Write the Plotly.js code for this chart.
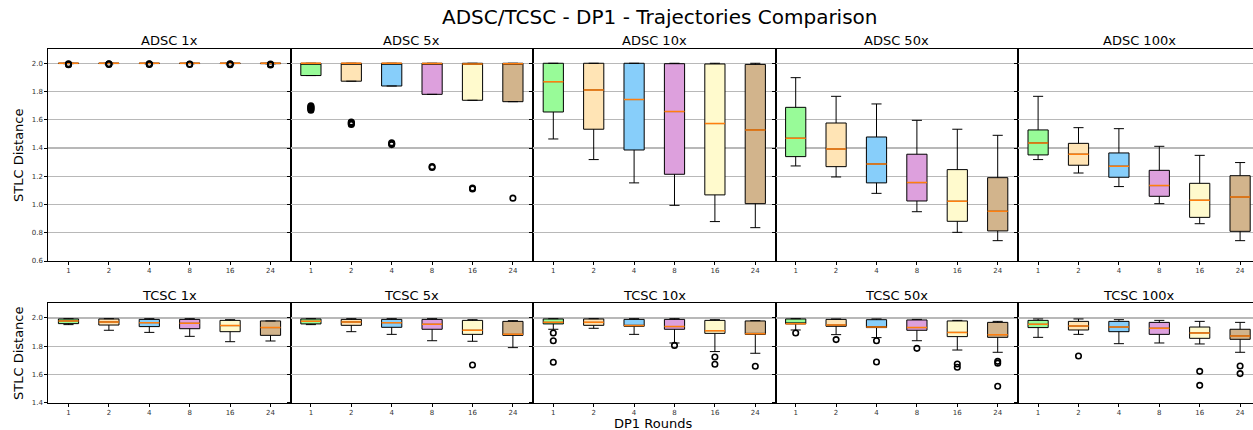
<!DOCTYPE html>
<html><head><meta charset="utf-8">
<script src="https://cdn.plot.ly/plotly-3.0.1.min.js"></script>
<style>html,body{margin:0;padding:0;overflow:hidden;background:#fff}</style>
</head><body><div id="chart"></div>
<script>
const rounds = ['1','2','4','8','16','24'];
const boxColors = ['#98FB98','#FFE4B5','#87CEFA','#DDA0DD','#FFFACD','#D2B48C'];
const adscPanels = ['ADSC 1x','ADSC 5x','ADSC 10x','ADSC 50x','ADSC 100x'];
const tcscPanels = ['TCSC 1x','TCSC 5x','TCSC 10x','TCSC 50x','TCSC 100x'];
const topTicks = [0.6,0.8,1.0,1.2,1.4,1.6,1.8,2.0];
const bottomTicks = [1.4,1.6,1.8,2.0];

// ADSC (top row) box statistics, one row per panel, one value per round
const adscUpper = [
  [2.0,2.0,2.0,2.0,2.0,2.0],
  [2.0,2.0,2.0,2.0,2.0,2.0],
  [2.0,2.0,2.0,2.0,2.0,2.0],
  [1.898,1.766,1.712,1.596,1.533,1.49],
  [1.766,1.544,1.537,1.412,1.348,1.297]];
const adscQ3 = [
  [2.0,2.0,2.0,2.0,2.0,2.0],
  [2.0,2.0,2.0,2.0,2.0,2.0],
  [2.0,2.0,2.0,1.997,1.995,1.992],
  [1.688,1.577,1.478,1.356,1.247,1.19],
  [1.528,1.433,1.365,1.242,1.15,1.204]];
const adscMedian = [
  [2.0,2.0,2.0,2.0,2.0,2.0],
  [2.0,2.0,2.0,1.999,1.994,1.997],
  [1.870,1.811,1.743,1.658,1.573,1.528],
  [1.469,1.393,1.287,1.155,1.023,0.952],
  [1.436,1.356,1.271,1.134,1.03,1.053]];
const adscQ1 = [
  [1.998,1.998,1.998,1.998,1.998,1.997],
  [1.913,1.873,1.839,1.78,1.738,1.728],
  [1.655,1.533,1.386,1.214,1.068,1.006],
  [1.339,1.268,1.153,1.025,0.881,0.813],
  [1.351,1.278,1.193,1.058,0.909,0.81]];
const adscLower = [
  [1.997,1.997,1.997,1.997,1.997,1.996],
  [1.913,1.873,1.839,1.78,1.738,1.728],
  [1.464,1.318,1.153,0.994,0.879,0.836],
  [1.273,1.195,1.079,0.949,0.803,0.744],
  [1.318,1.223,1.127,1.006,0.864,0.744]];
const adscOutliers = [
  [[1.99,1.993,1.996],[1.992,1.995,1.997],[1.991,1.994,1.997],[1.992,1.995],[1.99,1.993,1.996],[1.988,1.991,1.994]],
  [[1.668,1.674,1.68,1.686,1.692,1.698],[1.566,1.572,1.578,1.584],[1.424,1.43,1.436],[1.262,1.268],[1.11,1.116],[1.045]],
  [[],[],[],[],[],[]],
  [[],[],[],[],[],[]],
  [[],[],[],[],[],[]]];

// TCSC (bottom row)
const tcscUpper = [
  [1.995,1.995,1.995,1.995,1.988,1.979],
  [1.995,1.995,1.995,1.995,1.988,1.981],
  [1.995,1.995,1.995,1.995,1.988,1.981],
  [1.995,1.993,1.993,1.99,1.983,1.976],
  [1.993,1.993,1.988,1.983,1.976,1.969]];
const tcscQ3 = [
  [1.993,1.993,1.99,1.99,1.983,1.979],
  [1.993,1.99,1.99,1.99,1.983,1.976],
  [1.993,1.993,1.99,1.99,1.983,1.979],
  [1.993,1.99,1.988,1.986,1.979,1.969],
  [1.983,1.976,1.976,1.969,1.936,1.92]];
const tcscMedian = [
  [1.979,1.972,1.967,1.962,1.946,1.932],
  [1.976,1.972,1.967,1.955,1.913,1.884],
  [1.969,1.969,1.946,1.939,1.91,1.889],
  [1.96,1.95,1.936,1.932,1.898,1.882],
  [1.955,1.943,1.936,1.927,1.894,1.873]];
const tcscQ1 = [
  [1.96,1.95,1.939,1.924,1.903,1.877],
  [1.958,1.948,1.934,1.92,1.884,1.877],
  [1.958,1.948,1.941,1.92,1.891,1.884],
  [1.958,1.941,1.932,1.913,1.868,1.863],
  [1.932,1.915,1.903,1.884,1.856,1.849]];
const tcscLower = [
  [1.953,1.913,1.898,1.87,1.832,1.837],
  [1.953,1.903,1.884,1.839,1.835,1.79],
  [1.92,1.927,1.884,1.823,1.762,1.75],
  [1.915,1.882,1.861,1.839,1.773,1.757],
  [1.863,1.884,1.818,1.823,1.816,1.757]];
const tcscOutliers = [
  [[],[],[],[],[],[]],
  [[],[],[],[],[1.667],[]],
  [[1.894,1.839,1.686],[],[],[1.806],[1.724,1.672],[1.658]],
  [[1.894],[1.847],[1.839,1.688],[1.785],[1.674,1.651],[1.693,1.68,1.516]],
  [[],[1.731],[],[],[1.622,1.523],[1.66,1.606]]];

const W = 1262, H = 430;
const colLeft = 48.3, colWidth = 242.4;
const rowsPx = [{top:49, bottom:261, range:[0.6,2.101], ticks:topTicks},
                {top:303.3, bottom:402.7, range:[1.4,2.104], ticks:bottomTicks}];
const BOXW = 0.5;

const panels = [];
for (let c = 0; c < 5; c++) panels.push({row:0, col:c, title:adscPanels[c], up:adscUpper[c], q3:adscQ3[c], med:adscMedian[c], q1:adscQ1[c], lo:adscLower[c], out:adscOutliers[c]});
for (let c = 0; c < 5; c++) panels.push({row:1, col:c, title:tcscPanels[c], up:tcscUpper[c], q3:tcscQ3[c], med:tcscMedian[c], q1:tcscQ1[c], lo:tcscLower[c], out:tcscOutliers[c]});

const data = [];
const layout = {
  width: W, height: H, margin:{l:0,r:0,t:0,b:0},
  paper_bgcolor:'#fff', plot_bgcolor:'#fff', showlegend:false,
  font:{family:'DejaVu Sans, sans-serif', color:'#000'},
  boxmode:'overlay', annotations:[]
};

panels.forEach((p, idx) => {
  const k = idx + 1;
  const xs = 'x' + (k === 1 ? '' : k), ys = 'y' + (k === 1 ? '' : k);
  const rp = rowsPx[p.row];
  layout['xaxis' + (k === 1 ? '' : k)] = {
    domain:[(colLeft + p.col*colWidth)/W, (colLeft + (p.col+1)*colWidth)/W],
    range:[-0.5, 5.5], tickmode:'array', tickvals:rounds.map((_, i) => i), ticktext:rounds,
    ticks:'outside', ticklen:3, tickwidth:1, tickcolor:'#000', tickfont:{size:7, color:'#333'},
    showline:true, mirror:true, linecolor:'#000', linewidth:1,
    showgrid:false, zeroline:false, anchor:ys, fixedrange:true
  };
  layout['yaxis' + (k === 1 ? '' : k)] = {
    domain:[1 - rp.bottom/H, 1 - rp.top/H], range:rp.range,
    tickmode:'array', tickvals:rp.ticks, ticktext:rp.ticks.map(v => v.toFixed(1)),
    showticklabels:p.col === 0, ticks:'outside', ticklen:3, tickwidth:1, tickcolor:'#000',
    tickfont:{size:7, color:'#333'},
    showgrid:true, gridcolor:'#b8b8b8', gridwidth:1.2,
    showline:true, mirror:true, linecolor:'#000', linewidth:1,
    zeroline:false, anchor:xs, fixedrange:true
  };
  rounds.forEach((r, i) => {
    data.push({
      type:'box', x:[i], q1:[p.q1[i]], median:[p.med[i]], q3:[p.q3[i]],
      lowerfence:[p.lo[i]], upperfence:[p.up[i]],
      fillcolor:boxColors[i], line:{color:'#000', width:1}, width:BOXW, whiskerwidth:0.5,
      boxpoints:false, xaxis:xs, yaxis:ys, hoverinfo:'skip'
    });
  });
  const mx = [], my = [];
  rounds.forEach((r, i) => { mx.push(i - BOXW/2, i + BOXW/2, null); my.push(p.med[i], p.med[i], null); });
  data.push({type:'scatter', mode:'lines', x:mx, y:my, line:{color:'#ff7f0e', width:1.5},
             xaxis:xs, yaxis:ys, hoverinfo:'skip'});
  const ox = [], oy = [];
  p.out.forEach((arr, i) => arr.forEach(v => { ox.push(i); oy.push(v); }));
  if (ox.length) data.push({type:'scatter', mode:'markers', x:ox, y:oy,
    marker:{symbol:'circle-open', size:5.5, color:'#000', line:{width:1.6, color:'#000'}},
    xaxis:xs, yaxis:ys, hoverinfo:'skip', cliponaxis:false});
  layout.annotations.push({
    text:p.title, xref:'paper', yref:'paper',
    x:(colLeft + (p.col+0.5)*colWidth)/W, y:1 - (p.row === 0 ? 40.5 : 295)/H,
    xanchor:'center', yanchor:'middle', showarrow:false, font:{size:13, color:'#000'}
  });
});

layout.annotations.push({text:'ADSC/TCSC - DP1 - Trajectories Comparison', xref:'paper', yref:'paper',
  x:660/W, y:1 - 17/H, xanchor:'center', yanchor:'middle', showarrow:false, font:{size:20, color:'#000'}});
layout.annotations.push({text:'STLC Distance', xref:'paper', yref:'paper', x:18/W, y:1 - 155/H,
  xanchor:'center', yanchor:'middle', textangle:-90, showarrow:false, font:{size:13, color:'#000'}});
layout.annotations.push({text:'STLC Distance', xref:'paper', yref:'paper', x:18/W, y:1 - 353/H,
  xanchor:'center', yanchor:'middle', textangle:-90, showarrow:false, font:{size:13, color:'#000'}});
layout.annotations.push({text:'DP1 Rounds', xref:'paper', yref:'paper', x:653/W, y:1 - 423/H,
  xanchor:'center', yanchor:'middle', showarrow:false, font:{size:13, color:'#000'}});

Plotly.newPlot('chart', data, layout, {staticPlot:true, displayModeBar:false});
</script>
</body></html>
